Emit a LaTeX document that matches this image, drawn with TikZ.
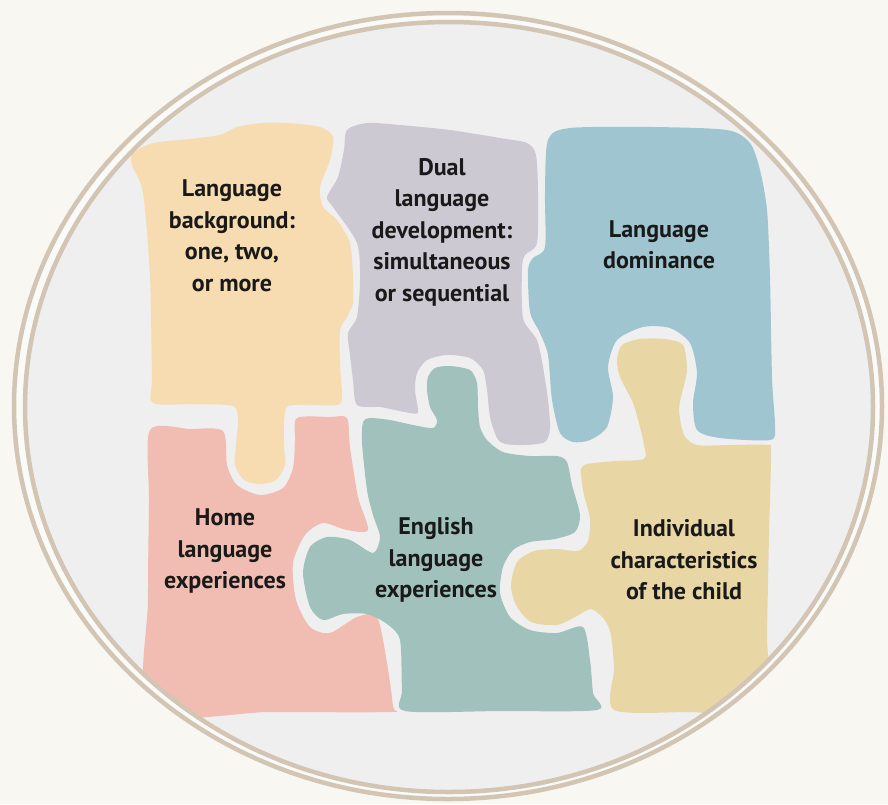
\documentclass[tikz,border=0pt]{standalone}
\usepackage{fontspec}
\setmainfont{PT Sans}
\definecolor{bgc}{HTML}{F8F7F1}
\definecolor{gapc}{HTML}{FAFAF8}
\definecolor{ringc}{HTML}{D3C5B3}
\definecolor{innerc}{HTML}{EFEFEF}
\definecolor{peachc}{HTML}{F6DCB0}
\definecolor{purplec}{HTML}{CDC9D3}
\definecolor{bluec}{HTML}{9FC6D0}
\definecolor{pinkc}{HTML}{F1BCB1}
\definecolor{tealc}{HTML}{A1C1BC}
\definecolor{yellowc}{HTML}{E8D7A5}
\tikzset{
  lbl/.style={align=center, inner sep=0pt, text=black!90,
    font=\fontsize{24}{31.5}\selectfont\bfseries},
  piece/.style={smooth cycle, tension=0.45}
}
\begin{document}
\begin{tikzpicture}[x=1pt,y=-1pt]
\useasboundingbox (0,0) rectangle (888,804);
\fill[bgc] (0,0) rectangle (888,804);
\fill[gapc] (448,406) ellipse [x radius=436pt, y radius=395pt];
\draw[ringc, line width=4.5pt] (448,406) ellipse [x radius=434pt, y radius=393pt];
\fill[innerc] (449,407) ellipse [x radius=424pt, y radius=385pt];
\begin{scope}
\clip (449,407) ellipse [x radius=422pt, y radius=383pt];
% peach: language background
\fill[peachc] plot[piece] coordinates {(133,153) (153,143) (190,139) (220,135) (237,127) (262,123) (287,123) (320,127) (333,137) (330,160) (320,187) (323,207) (337,220) (350,243) (353,277) (353,303) (347,317) (340,330) (340,363) (342,397) (337,405) (310,405) (288,406) (284,420) (284,445) (285,465) (276,480) (260,484) (244,480) (235,465) (236,445) (238,420) (233,406) (195,404) (153,403) (152,377) (150,277) (143,193) (132,165)};
% purple: dual language development
\fill[purplec] plot[piece] coordinates {(347,130) (367,123) (400,125) (450,130) (500,138) (527,143) (536,155) (538,193) (537,243) (525,255) (522,268) (523,318) (537,340) (543,367) (548,400) (550,428) (545,442) (525,445) (505,444) (497,438) (490,417) (487,390) (483,370) (470,358) (447,355) (427,360) (417,373) (415,390) (418,412) (410,413) (380,407) (357,405) (353,380) (350,355) (348,333) (357,317) (360,280) (357,243) (333,207) (327,197) (338,177) (344,150)};
% blue: language dominance
\fill[bluec] plot[piece] coordinates {(548,140) (570,128) (653,127) (727,130) (750,143) (760,170) (767,210) (770,277) (772,377) (775,427) (770,440) (720,438) (697,430) (693,403) (697,373) (690,343) (670,328) (643,327) (617,340) (608,367) (613,397) (607,427) (590,440) (573,442) (560,433) (552,400) (548,355) (540,333) (530,312) (528,270) (533,258) (545,247) (545,193)};
% pink: home language experiences
\fill[pinkc] plot[piece] coordinates {(150,430) (190,429) (223,431) (227,465) (237,485) (260,495) (283,488) (293,468) (295,440) (297,418) (330,417) (347,418) (350,447) (358,497) (368,530) (347,530) (323,523) (305,535) (293,563) (296,600) (310,627) (330,633) (357,617) (377,617) (387,663) (393,707) (390,712) (270,712) (150,712) (148,600) (149,500)};
% teal: English language experiences
\fill[tealc] plot[piece] coordinates {(363,422) (370,418) (390,420) (413,425) (433,428) (437,420) (430,407) (427,390) (428,377) (435,368) (450,366) (470,370) (477,383) (478,407) (480,427) (487,440) (503,452) (530,456) (557,456) (567,462) (572,485) (580,515) (575,532) (555,539) (530,542) (513,550) (503,567) (500,593) (510,617) (530,630) (557,633) (583,627) (590,660) (593,693) (597,710) (500,711) (405,711) (402,690) (400,640) (387,624) (367,614) (343,614) (323,620) (310,607) (303,573) (310,547) (327,537) (350,540) (373,553) (380,537) (373,515) (367,490) (362,443)};
% yellow: individual characteristics
\fill[yellowc] plot[piece] coordinates {(581,469) (587,464) (615,461) (644,459) (644,445) (640,427) (633,403) (620,377) (617,360) (622,345) (640,339) (665,339) (683,345) (687,370) (682,393) (679,410) (684,435) (697,445) (730,445) (767,445) (771,452) (769,535) (767,635) (766,712) (690,712) (614,710) (614,669) (611,635) (604,619) (591,609) (577,616) (557,625) (531,622) (516,605) (511,585) (517,562) (534,551) (557,549) (578,551) (588,541) (590,519) (584,495) (581,475)};
\end{scope}
\draw[ringc, line width=4.5pt] (449,407) ellipse [x radius=424pt, y radius=385pt];
\node[lbl] (tbg) at (232,236) {Language\\background:\\one, two,\\or more};
\node[lbl] (tdual) at (442,232) {Dual\\language\\development:\\simultaneous\\or sequential};
\node[lbl] (tdom) at (659,245) {Language\\dominance};
\node[lbl] (thome) at (225,551) {Home\\language\\experiences};
\node[lbl] (teng) at (436,560) {English\\language\\experiences};
\node[lbl] (tind) at (684,560) {Individual\\characteristics\\of the child};
\end{tikzpicture}
\end{document}
